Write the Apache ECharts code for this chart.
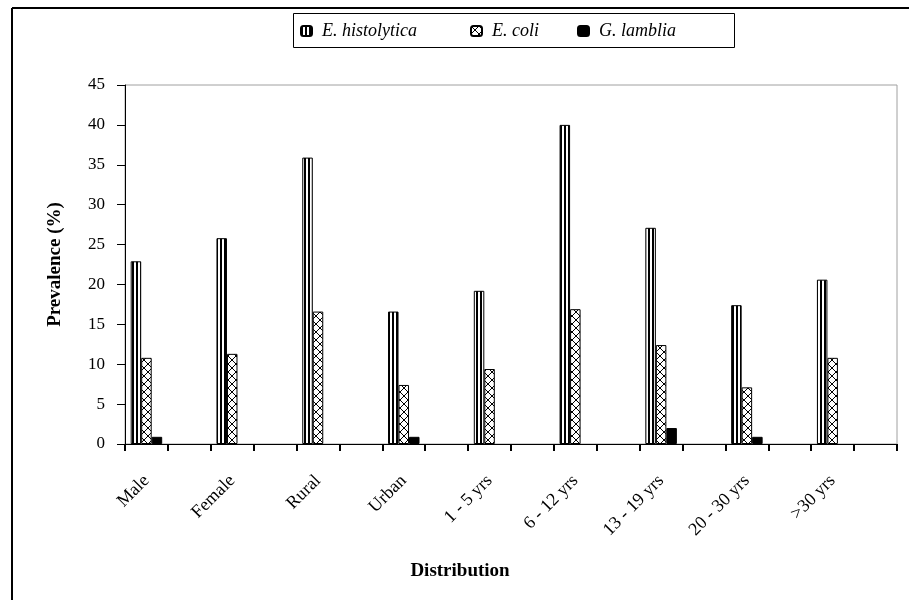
<!DOCTYPE html>
<html>
<head>
<meta charset="utf-8">
<script src="https://cdn.jsdelivr.net/npm/echarts@6/dist/echarts.min.js"></script>
<style>
html,body{margin:0;padding:0;background:#fff;}
#chart{width:909px;height:600px;}
</style>
</head>
<body>
<div id="chart"></div>
<script>
// ---- data ----
const categories = ['Male', 'Female', 'Rural', 'Urban', '1 - 5 yrs', '6 - 12 yrs', '13 - 19 yrs', '20 - 30 yrs', '>30 yrs'];
const seriesNames = ['E. histolytica', 'E. coli', 'G. lamblia'];
const histolytica = [22.9, 25.8, 35.9, 16.6, 19.2, 40.0, 27.1, 17.4, 20.6];
const coli = [10.8, 11.3, 16.6, 7.4, 9.4, 16.9, 12.4, 7.1, 10.8];
const lamblia = [0.9, 0, 0, 0.9, 0, 0, 2.0, 0.9, 0];
const yTicks = { min: 0, max: 45, interval: 5 };

// Each labelled category is followed by an empty slot (as in the original layout)
function spread(arr, filler) {
  const out = [];
  arr.forEach(v => { out.push(v === 0 ? '-' : v); out.push(filler); });
  return out;
}
const cats18 = spread(categories, '');

// ---- patterns ----
function stripePattern() {
  const c = document.createElement('canvas');
  c.width = 4; c.height = 4;
  const g = c.getContext('2d');
  g.fillStyle = '#fff'; g.fillRect(0, 0, 4, 4);
  g.fillStyle = '#000'; g.fillRect(0, 0, 2, 4);
  return { image: c, repeat: 'repeat' };
}
function crossPattern() {
  const c = document.createElement('canvas');
  c.width = 8; c.height = 8;
  const g = c.getContext('2d');
  g.fillStyle = '#fff'; g.fillRect(0, 0, 8, 8);
  g.strokeStyle = '#000'; g.lineWidth = 1;
  g.beginPath();
  g.moveTo(0, 0); g.lineTo(8, 8);
  g.moveTo(8, 0); g.lineTo(0, 8);
  g.stroke();
  return { image: c, repeat: 'repeat' };
}
const fills = [stripePattern(), crossPattern(), '#000'];
const dataSets = [histolytica, coli, lamblia];

const serif = '"Liberation Serif", "Times New Roman", serif';

const chart = echarts.init(document.getElementById('chart'), null, { renderer: 'canvas' });

const legendLefts = [300, 470, 577];
const legends = seriesNames.map((n, i) => ({
  data: [n],
  left: legendLefts[i],
  top: 22,
  padding: 0,
  itemWidth: 11,
  itemHeight: 10,
  selectedMode: false,
  textStyle: { fontFamily: serif, fontStyle: 'italic', fontSize: 18, color: '#000', padding: [0, 0, 0, 5] }
}));

const option = {
  backgroundColor: '#fff',
  animation: false,
  legend: legends,
  grid: { left: 125, right: 12, top: 85, bottom: 156, show: true, borderColor: '#a0a0a0', borderWidth: 1 },
  xAxis: [{
    type: 'category',
    data: cats18,
    boundaryGap: true,
    axisLine: { lineStyle: { color: '#000', width: 1 } },
    axisTick: { show: false },
    axisLabel: { interval: 0, rotate: 45, margin: 34, fontFamily: serif, fontSize: 18, color: '#000', hideOverlap: false },
    name: 'Distribution',
    nameLocation: 'middle',
    nameGap: 118,
    nameTextStyle: { fontFamily: serif, fontWeight: 'bold', fontSize: 19, color: '#000', padding: [0, 102, 0, 0] }
  }, {
    type: 'value',
    position: 'bottom',
    show: true,
    min: 0,
    max: cats18.length,
    interval: 1,
    axisLine: { show: false },
    axisTick: { show: true, length: 7, lineStyle: { color: '#000', width: 2 } },
    axisLabel: { show: false },
    splitLine: { show: false }
  }],
  yAxis: {
    type: 'value',
    min: yTicks.min, max: yTicks.max, interval: yTicks.interval,
    axisLine: { show: true, lineStyle: { color: '#000', width: 1 } },
    axisTick: { show: true, length: 8, lineStyle: { color: '#000' } },
    splitLine: { show: false },
    axisLabel: { margin: 20, fontFamily: serif, fontSize: 17, color: '#000' },
    name: 'Prevalence (%)',
    nameLocation: 'middle',
    nameGap: 60,
    nameTextStyle: { fontFamily: serif, fontWeight: 'bold', fontSize: 19, color: '#000' }
  },
  series: seriesNames.map((n, i) => ({
    name: n,
    type: 'bar',
    xAxisIndex: 0,
    data: spread(dataSets[i], '-'),
    barWidth: 10.5,
    barGap: '0%',
    itemStyle: { color: fills[i], borderColor: '#000', borderWidth: 1 },
    emphasis: { disabled: true }
  })),
  graphic: [
    { type: 'line', shape: { x1: 12, y1: 8, x2: 909, y2: 8 }, style: { stroke: '#000', lineWidth: 2 } },
    { type: 'line', shape: { x1: 12, y1: 8, x2: 12, y2: 600 }, style: { stroke: '#000', lineWidth: 2 } },
    { type: 'rect', shape: { x: 293.5, y: 13.5, width: 441, height: 34 }, style: { fill: 'transparent', stroke: '#000', lineWidth: 1 }, z: 10 }
  ]
};
chart.setOption(option);
</script>
</body>
</html>
